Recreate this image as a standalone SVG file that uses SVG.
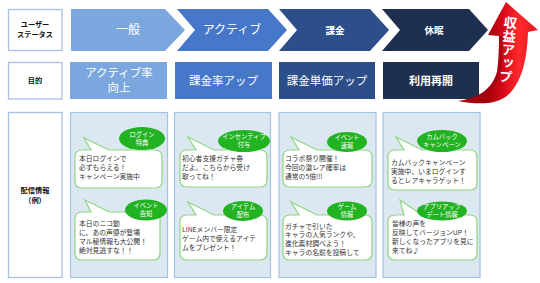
<svg xmlns="http://www.w3.org/2000/svg" width="540" height="283" viewBox="0 0 540 283">
<defs>
<style>
.lbl{fill:#fff;stroke:#a6c2e6;stroke-width:1.3}
.lt{font-family:"Noto Sans CJK JP","Noto Sans",sans-serif;font-size:7.2px;font-weight:bold;fill:#111;text-anchor:middle}
.ht{font-family:"Noto Sans CJK JP","Noto Sans",sans-serif;fill:#fff;text-anchor:middle}
.panel{fill:#dbe8f2;stroke:#a3c2e5;stroke-width:1.2}
.bub{fill:#fff;stroke:#8fd67f;stroke-width:1.2}
.tag{fill:#22b322}
.tt{font-family:"Noto Sans CJK JP","Noto Sans",sans-serif;font-size:6.3px;fill:#fff;text-anchor:middle}
.bt{font-family:"Noto Sans CJK JP","Noto Sans",sans-serif;font-size:6.8px;fill:#333}
</style>
<linearGradient id="rg" x1="488" y1="0" x2="540" y2="0" gradientUnits="userSpaceOnUse">
<stop offset="0" stop-color="#a5000c"/>
<stop offset="0.3" stop-color="#d80a18"/>
<stop offset="0.6" stop-color="#ff2a2e"/>
<stop offset="1" stop-color="#e3101c"/>
</linearGradient>
</defs>
<rect width="540" height="283" fill="#fff"/>

<!-- left labels -->
<g id="label-status"><rect class="lbl" x="8.5" y="9.5" width="53.5" height="41"/><text class="lt" x="35" y="26.5">ユーザー</text><text class="lt" x="35" y="36.5">ステータス</text></g>
<g id="label-goal"><rect class="lbl" x="8.5" y="62.5" width="53.5" height="36.5"/><text class="lt" x="35" y="83">目的</text></g>
<g id="label-info"><rect class="lbl" x="8.5" y="112.5" width="53.5" height="165"/><text class="lt" x="35" y="192.5">配信情報</text><text class="lt" x="35" y="202.5">（例）</text></g>

<!-- chevrons -->
<g id="stage-general"><path d="M71,9 L165,9 L185,30 L165,51 L71,51 Z" fill="#7ca7de"/><text class="ht" x="128" y="34" font-size="12">一般</text></g>
<g id="stage-active"><path d="M177,9 L268,9 L287,30 L268,51 L177,51 L195,30 Z" fill="#4677c8"/><text class="ht" x="232" y="34" font-size="12">アクティブ</text></g>
<g id="stage-charge"><path d="M279,9 L370,9 L389,30 L370,51 L279,51 L297,30 Z" fill="#2c4f8a"/><text class="ht" x="335" y="33.5" font-size="9.5" font-weight="bold">課金</text></g>
<g id="stage-dormant"><path d="M382,9 L469,9 L488,30 L469,51 L382,51 L400,30 Z" fill="#1e2f4f"/><text class="ht" x="434" y="33.5" font-size="9.5" font-weight="bold">休眠</text></g>

<!-- goals -->
<g id="goal-general"><rect x="70" y="62" width="97" height="37" fill="#7ca7de"/><text class="ht" x="119" y="77" font-size="11.5">アクティブ率</text><text class="ht" x="119" y="92" font-size="11.5">向上</text></g>
<g id="goal-active"><rect x="175" y="62" width="97" height="37" fill="#4677c8"/><text class="ht" x="223.5" y="84.5" font-size="11.5">課金率アップ</text></g>
<g id="goal-charge"><rect x="279" y="62" width="96" height="37" fill="#2c4f8a"/><text class="ht" x="327" y="84.5" font-size="11.5">課金単価アップ</text></g>
<g id="goal-dormant"><rect x="383" y="62" width="96" height="37" fill="#1e2f4f"/><text class="ht" x="431" y="84.5" font-size="11" font-weight="bold">利用再開</text></g>

<!-- panels -->
<g id="panel-general">
<rect class="panel" x="70.5" y="112.5" width="97" height="165"/>
<path class="bub" d="M82,150 L91,150 L84,138 L109,150 L155,150 Q162,150 162,157 L162,181 Q162,188 155,188 L82,188 Q75,188 75,181 L75,157 Q75,150 82,150 Z"/>
<ellipse class="tag" cx="142" cy="138.5" rx="23" ry="11.5"/>
<text class="tt" x="142" y="136.5">ログイン</text><text class="tt" x="142" y="144.5">特典</text>
<text class="bt" x="79" y="161">本日ログインで</text>
<text class="bt" x="79" y="170">必ずもらえる！</text>
<text class="bt" x="79" y="178.5">キャンペーン実施中</text>
<path class="bub" d="M82,212 L91,212 L85,200 L109,212 L153,212 Q160,212 160,219 L160,253 Q160,260 153,260 L82,260 Q75,260 75,253 L75,219 Q75,212 82,212 Z"/>
<ellipse class="tag" cx="146" cy="210" rx="21" ry="10.5"/>
<text class="tt" x="146" y="208">イベント</text><text class="tt" x="146" y="216">告知</text>
<text class="bt" x="79" y="225.5">本日のニコ動</text>
<text class="bt" x="79" y="234.8">に、あの声優が登場</text>
<text class="bt" x="79" y="244.1">マル秘情報も大公開！</text>
<text class="bt" x="79" y="253.4">絶対見逃すな！！</text>
</g>

<g id="panel-active">
<rect class="panel" x="174.5" y="112.5" width="96" height="165"/>
<path class="bub" d="M187,150 L196,150 L188,137 L214,150 L260,150 Q267,150 267,157 L267,180 Q267,187 260,187 L187,187 Q180,187 180,180 L180,157 Q180,150 187,150 Z"/>
<ellipse class="tag" cx="244" cy="141" rx="26" ry="11"/>
<text class="tt" x="244" y="139">インセンティブ</text><text class="tt" x="244" y="147">付与</text>
<text class="bt" x="182" y="160.5">初心者支援ガチャ券</text>
<text class="bt" x="182" y="169.5">だよ。こちらから受け</text>
<text class="bt" x="182" y="178.5">取ってね！</text>
<path class="bub" d="M187,215 L196,215 L188,202 L214,215 L260,215 Q267,215 267,222 L267,253 Q267,260 260,260 L187,260 Q180,260 180,253 L180,222 Q180,215 187,215 Z"/>
<ellipse class="tag" cx="243" cy="211" rx="20" ry="10"/>
<text class="tt" x="243" y="209">アイテム</text><text class="tt" x="243" y="217">配布</text>
<text class="bt" x="182" y="231.5">LINEメンバー限定</text>
<text class="bt" x="182" y="240.5">ゲーム内で使えるアイテ</text>
<text class="bt" x="182" y="249.5">ムをプレゼント！</text>
</g>

<g id="panel-charge">
<rect class="panel" x="279" y="112.5" width="97" height="165"/>
<path class="bub" d="M290,150 L299,150 L291,137 L317,150 L365,150 Q372,150 372,157 L372,180 Q372,187 365,187 L290,187 Q283,187 283,180 L283,157 Q283,150 290,150 Z"/>
<ellipse class="tag" cx="347" cy="142" rx="20" ry="10"/>
<text class="tt" x="347" y="140">イベント</text><text class="tt" x="347" y="148">速報</text>
<text class="bt" x="285" y="160.5">コラボ祭り開催！</text>
<text class="bt" x="285" y="169.5">今回の激レア確率は</text>
<text class="bt" x="285" y="178.5">通常の5倍!!!</text>
<path class="bub" d="M290,215 L299,215 L291,202 L317,215 L365,215 Q372,215 372,222 L372,253 Q372,260 365,260 L290,260 Q283,260 283,253 L283,222 Q283,215 290,215 Z"/>
<ellipse class="tag" cx="347" cy="211" rx="20" ry="9.5"/>
<text class="tt" x="347" y="209">ゲーム</text><text class="tt" x="347" y="217">情報</text>
<text class="bt" x="285" y="228.5">ガチャで引いた</text>
<text class="bt" x="285" y="237">キャラの人気ランクや、</text>
<text class="bt" x="285" y="245.5">進化素材調べよう！</text>
<text class="bt" x="285" y="254.5">キャラの名前を投稿して</text>
</g>

<g id="panel-dormant">
<rect class="panel" x="383" y="112.5" width="97" height="165"/>
<path class="bub" d="M395,150 L404,150 L396,137 L422,150 L470,150 Q477,150 477,157 L477,183 Q477,190 470,190 L395,190 Q388,190 388,183 L388,157 Q388,150 395,150 Z"/>
<ellipse class="tag" cx="442" cy="141" rx="25" ry="11"/>
<text class="tt" x="442" y="139">カムバック</text><text class="tt" x="442" y="147">キャンペーン</text>
<text class="bt" x="391" y="164.5">カムバックキャンペーン</text>
<text class="bt" x="391" y="173.5">実施中、いまログインす</text>
<text class="bt" x="391" y="182.5">るとレアキャラゲット！</text>
<path class="bub" d="M395,215 L404,215 L400,200 L422,215 L470,215 Q477,215 477,222 L477,253 Q477,260 470,260 L395,260 Q388,260 388,253 L388,222 Q388,215 395,215 Z"/>
<ellipse class="tag" cx="442" cy="211" rx="25" ry="9.5"/>
<text class="tt" x="442" y="209">アプリアップ</text><text class="tt" x="442" y="217">デート情報</text>
<text class="bt" x="392" y="225.5">皆様の声を</text>
<text class="bt" x="392" y="234.5">反映してバージョンUP！</text>
<text class="bt" x="392" y="243.5">新しくなったアプリを見に</text>
<text class="bt" x="392" y="252.5">来てね♪</text>
</g>

<!-- revenue arrow -->
<g id="revenue-arrow">
<path d="M506,2 L538,30 L528,32 C527,60 522,82 508,95 C495,106 475,104 458,101 C478,98 492,90 497,72 C499,60 499,45 499,36 L488,35 Z" fill="url(#rg)"/>
<path d="M458,101 C478,98 492,90 497,72 C499,60 499,45 499,36 L503,36 C503,50 503,64 500,76 C494,92 478,100 458,101 Z" fill="#9a0010" opacity="0.6"/>
<text x="511" y="16" transform="rotate(5 511 16)" writing-mode="vertical-rl" font-family="'Noto Sans CJK JP',sans-serif" font-size="13.5" font-weight="bold" fill="#fff">収益アップ</text>
</g>
</svg>
